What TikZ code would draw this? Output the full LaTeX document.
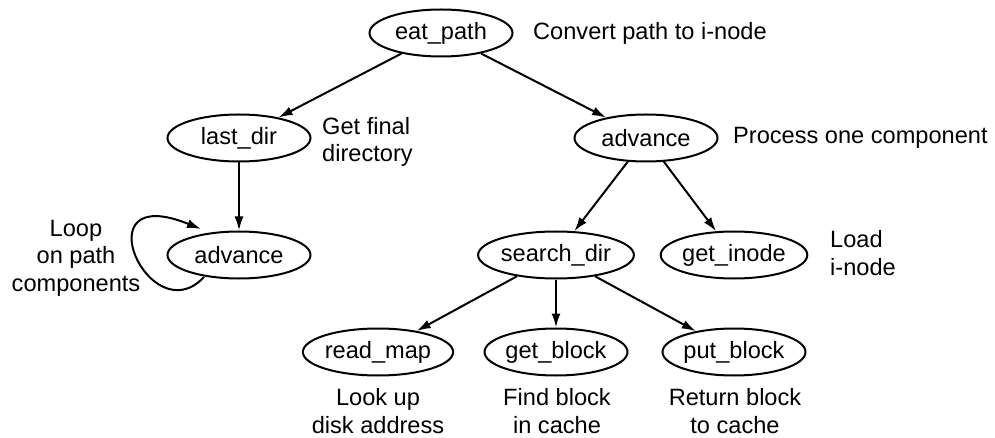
\documentclass[tikz,border=0pt]{standalone}
\usepackage{fontspec}
\setmainfont{Liberation Sans}
\usetikzlibrary{shapes.geometric,arrows.meta}
\begin{document}
\begin{tikzpicture}[x=1pt,y=-1pt,
  every node/.style={font=\fontsize{23.6}{27.5}\selectfont},
  proc/.style={ellipse,draw,line width=2pt,minimum width=143pt,minimum height=47pt,inner sep=0pt},
  lbl/.style={inner sep=0pt},
  conn/.style={line width=2pt,-{Latex[length=14pt,width=9pt]}}]
\useasboundingbox (0,0) rectangle (995,438);
\node[proc] (eat) at (441,33) {eat\_path};
\node[proc] (lastdir) at (239,138) {last\_dir};
\node[proc] (adv2) at (646,138) {advance};
\node[proc] (adv1) at (239,255) {advance};
\node[proc] (search) at (556,255) {search\_dir};
\node[proc] (inode) at (734,255) {get\_inode};
\node[proc] (readmap) at (378,352) {read\_map};
\node[proc] (getblock) at (556,352) {get\_block};
\node[proc] (putblock) at (734,352) {put\_block};
\node[lbl,anchor=west] (l1) at (533,33) {Convert path to i-node};
\node[lbl,anchor=west,align=left] (l2) at (322,142) {Get final\\directory};
\node[lbl,anchor=west] (l3) at (733,138) {Process one component};
\node[lbl,anchor=west,align=left] (l4) at (830,253) {Load\\i-node};
\node[lbl,align=center] (l5) at (76,258) {Loop\\on path\\components};
\node[lbl,align=center] (l6) at (378,411) {Look up\\disk address};
\node[lbl,align=center] (l7) at (557,411) {Find block\\in cache};
\node[lbl,align=center] (l8) at (735,411) {Return block\\to cache};
\draw[conn] (eat) -- (lastdir);
\draw[conn] (eat) -- (adv2);
\draw[conn] (lastdir) -- (adv1);
\draw[conn] (adv2) -- (search);
\draw[conn] (adv2) -- (inode);
\draw[conn] (search) -- (readmap);
\draw[conn] (search) -- (getblock);
\draw[conn] (search) -- (putblock);
\coordinate (ls) at (204,277);
\coordinate (le) at (201,229);
\draw[conn] (ls) .. controls (150,335) and (80,180) .. (le);
\end{tikzpicture}
\end{document}
